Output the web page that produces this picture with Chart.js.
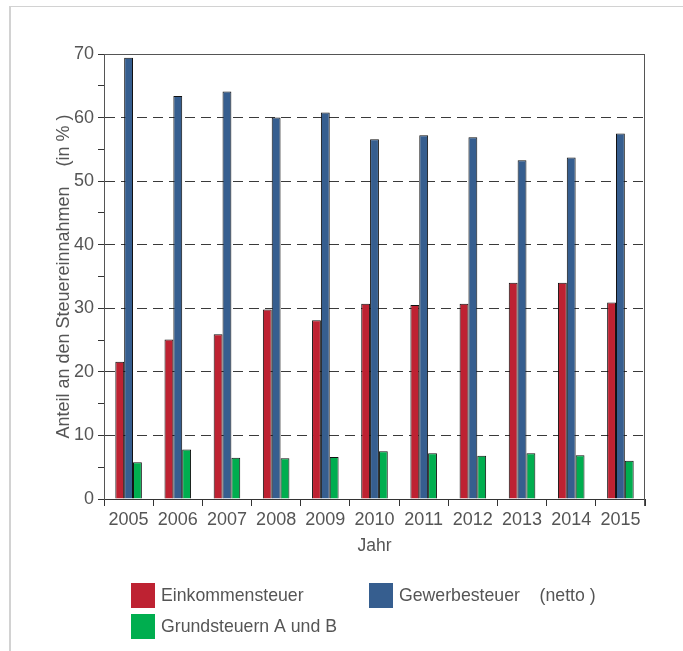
<!DOCTYPE html>
<html>
<head>
<meta charset="utf-8">
<script src="https://cdn.jsdelivr.net/npm/chart.js@4/dist/chart.umd.min.js"></script>
<style>
  body { margin: 0; background: #fff; }
  #wrap { position: relative; width: 683px; height: 651px; overflow: hidden; }
  #frame { position: absolute; left: 9px; top: 6px; width: 700px; height: 700px;
           border-top: 1px solid #d2d2d2; border-left: 2px solid #d2d2d2; }
  canvas { position: absolute; left: 0; top: 0; }
</style>
</head>
<body>
<div id="wrap">
  <div id="frame"></div>
  <canvas id="chart" width="683" height="651"></canvas>
</div>
<script>
// Daten
const years = ['2005', '2006', '2007', '2008', '2009', '2010', '2011', '2012', '2013', '2014', '2015'];
const einkommensteuer = [21.6, 25.1, 25.9, 29.8, 28.1, 30.7, 30.5, 30.7, 34.0, 34.0, 30.9];
const gewerbesteuer = [69.4, 63.4, 64.1, 60.0, 60.8, 56.6, 57.2, 56.9, 53.3, 53.7, 57.5];
const grundsteuern = [5.8, 7.8, 6.5, 6.4, 6.6, 7.5, 7.2, 6.8, 7.2, 6.9, 6.0];

const labelRed = 'Einkommensteuer';
const labelBlue = 'Gewerbesteuer    (netto )';
const labelGreen = 'Grundsteuern A und B';

const textColor = '#555';
const fontFamily = '"Liberation Sans", Arial, sans-serif';

// Rahmen oben + rechts um die Zeichenfläche
const frameLines = {
    id: 'frameLines',
    afterDatasetsDraw(chart) {
        const { ctx, chartArea: a } = chart;
        ctx.save();
        ctx.strokeStyle = '#555';
        ctx.lineWidth = 1;
        ctx.beginPath();
        ctx.moveTo(a.left, a.top + 0.5);
        ctx.lineTo(a.right - 0.5, a.top + 0.5);
        ctx.lineTo(a.right - 0.5, a.bottom + 7);
        ctx.stroke();
        ctx.restore();
    }
};

// Legende unten, zwei Spalten
const bottomLegend = {
    id: 'bottomLegend',
    afterDraw(chart) {
        const ctx = chart.ctx;
        const ds = chart.data.datasets;
        const spots = [[131, 583], [369, 583], [131, 614]];
        ctx.save();
        ctx.font = '17.7px ' + fontFamily;
        ctx.textBaseline = 'middle';
        ds.forEach((d, i) => {
            const [x, y] = spots[i];
            ctx.fillStyle = d.backgroundColor;
            ctx.fillRect(x, y, 24, 25);
            ctx.fillStyle = textColor;
            ctx.fillText(d.label, x + 30, y + 13);
        });
        ctx.restore();
    }
};

const ctx = document.getElementById('chart').getContext('2d');
const chart = new Chart(ctx, {
    type: 'bar',
    data: {
        labels: years,
        datasets: [
            { label: labelRed, data: einkommensteuer, backgroundColor: '#be2232' },
            { label: labelBlue, data: gewerbesteuer, backgroundColor: '#365e8f' },
            { label: labelGreen, data: grundsteuern, backgroundColor: '#00ae4f' }
        ]
    },
    options: {
        responsive: false,
        animation: false,
        devicePixelRatio: 1,
        layout: { padding: { left: 10, top: 54, right: 38, bottom: 92 } },
        datasets: {
            bar: {
                borderColor: '#111',
                borderWidth: 1,
                categoryPercentage: 0.54,
                barPercentage: 1.0
            }
        },
        plugins: {
            legend: { display: false },
            tooltip: { enabled: false }
        },
        scales: {
            x: {
                afterFit: s => { s.height = 60; },
                grid: {
                    offset: true,
                    drawOnChartArea: false,
                    tickLength: 7,
                    tickColor: '#333'
                },
                border: { color: '#333', width: 1 },
                ticks: {
                    color: textColor,
                    font: { family: fontFamily, size: 18 },
                    padding: 3,
                    maxRotation: 0
                },
                title: {
                    display: true,
                    text: 'Jahr',
                    color: textColor,
                    font: { family: fontFamily, size: 17.5 },
                    padding: { top: 0, bottom: 2 }
                }
            },
            y: {
                min: 0,
                max: 70,
                afterFit: s => { s.width = 94; },
                grid: {
                    color: c => {
                        const v = c.tick ? c.tick.value : null;
                        if (v === 70) return '#555';
                        if (v > 0 && v % 10 === 0) return '#3a3a3a';
                        return 'rgba(0,0,0,0)';
                    },
                    lineWidth: 1,
                    tickLength: 6,
                    tickColor: '#333'
                },
                border: {
                    color: '#555',
                    width: 1,
                    dash: c => (c.tick && c.tick.value < 70) ? [10, 6] : []
                },
                ticks: {
                    stepSize: 5,
                    color: textColor,
                    font: { family: fontFamily, size: 18 },
                    padding: 4,
                    callback: v => (v % 10 === 0 ? v : '')
                },
                title: {
                    display: true,
                    text: 'Anteil an den Steuereinnahmen    (in % )',
                    color: textColor,
                    font: { family: fontFamily, size: 18 },
                    padding: { top: 43, bottom: 0 }
                }
            }
        }
    },
    plugins: [frameLines, bottomLegend]
});
</script>
</body>
</html>
